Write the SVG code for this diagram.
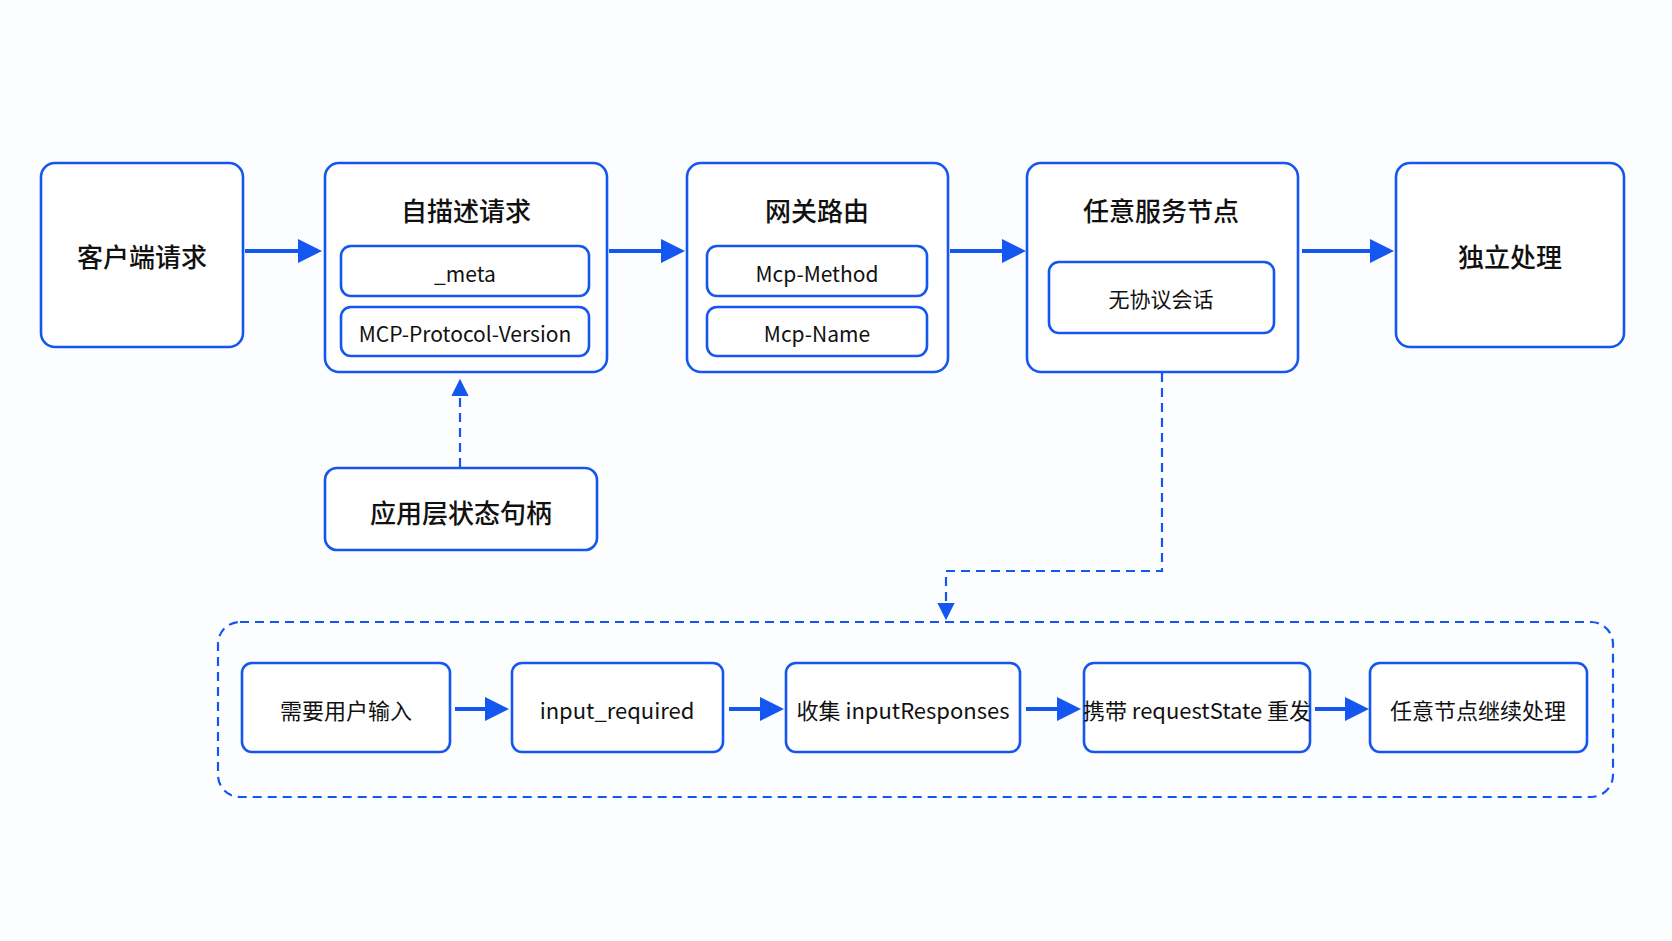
<svg xmlns="http://www.w3.org/2000/svg" width="1672" height="941" viewBox="0 0 1672 941">
<style>
.b{fill:#fff;stroke:#1456f0;stroke-width:2.6}
.t{font-family:"Noto Sans CJK SC","Noto Sans",sans-serif;fill:#111;text-anchor:middle;dominant-baseline:central}
.l{font-size:26px;font-weight:500}
.s{font-size:21px}
.m{font-size:22px}
.c{stroke:#1456f0;stroke-width:4;fill:none}
.d{stroke:#1456f0;stroke-width:2.2;fill:none;stroke-dasharray:9 6}
</style>
<defs>
<marker id="a" markerWidth="6" markerHeight="6" refX="5" refY="3" orient="auto" markerUnits="strokeWidth"><path d="M0,0L6,3L0,6z" fill="#1456f0"/></marker>
<marker id="ad" markerWidth="8" markerHeight="8" refX="7" refY="4" orient="auto" markerUnits="strokeWidth"><path d="M0,0L8,4L0,8z" fill="#1456f0"/></marker>
</defs>
<rect width="1672" height="941" fill="#fcfdff"/>
<g id="connectors">
<line class="c" x1="245" y1="251" x2="318" y2="251" marker-end="url(#a)"/>
<line class="c" x1="609" y1="251" x2="681" y2="251" marker-end="url(#a)"/>
<line class="c" x1="950" y1="251" x2="1022" y2="251" marker-end="url(#a)"/>
<line class="c" x1="1302" y1="251" x2="1390" y2="251" marker-end="url(#a)"/>
<line class="d" x1="460" y1="467" x2="460" y2="381" marker-end="url(#ad)"/>
<path class="d" d="M1162,373V571H946V618" marker-end="url(#ad)"/>
<line class="c" x1="455" y1="709" x2="505" y2="709" marker-end="url(#a)"/>
<line class="c" x1="729" y1="709" x2="780" y2="709" marker-end="url(#a)"/>
<line class="c" x1="1026" y1="709" x2="1077" y2="709" marker-end="url(#a)"/>
<line class="c" x1="1315" y1="709" x2="1365" y2="709" marker-end="url(#a)"/>
</g>
<g id="group"><rect x="218" y="622" width="1395" height="175" rx="22" fill="none" class="d"/></g>
<g id="client"><rect class="b" x="41" y="163" width="202" height="184" rx="14"/><text class="t l" x="142" y="255">客户端请求</text></g>
<g id="selfdesc"><rect class="b" x="325" y="163" width="282" height="209" rx="14"/><text class="t l" x="466" y="209">自描述请求</text>
<rect class="b" x="341" y="246" width="248" height="50" rx="10"/><text class="t s" x="465" y="273">_meta</text>
<rect class="b" x="341" y="307" width="248" height="49" rx="10"/><text class="t s" x="465" y="333">MCP-Protocol-Version</text></g>
<g id="gateway"><rect class="b" x="687" y="163" width="261" height="209" rx="14"/><text class="t l" x="817" y="209">网关路由</text>
<rect class="b" x="707" y="246" width="220" height="50" rx="10"/><text class="t s" x="817" y="273">Mcp-Method</text>
<rect class="b" x="707" y="307" width="220" height="49" rx="10"/><text class="t s" x="817" y="333">Mcp-Name</text></g>
<g id="anynode"><rect class="b" x="1027" y="163" width="271" height="209" rx="14"/><text class="t l" x="1161" y="209">任意服务节点</text>
<rect class="b" x="1049" y="262" width="225" height="71" rx="10"/><text class="t s" x="1161" y="298">无协议会话</text></g>
<g id="independent"><rect class="b" x="1396" y="163" width="228" height="184" rx="14"/><text class="t l" x="1510" y="255">独立处理</text></g>
<g id="appstate"><rect class="b" x="325" y="468" width="272" height="82" rx="12"/><text class="t l" x="461" y="511">应用层状态句柄</text></g>
<g id="n1"><rect class="b" x="242" y="663" width="208" height="89" rx="10"/><text class="t m" x="346" y="709">需要用户输入</text></g>
<g id="n2"><rect class="b" x="512" y="663" width="211" height="89" rx="10"/><text class="t m" x="617" y="709">input_required</text></g>
<g id="n3"><rect class="b" x="786" y="663" width="234" height="89" rx="10"/><text class="t m" x="903" y="709">收集 inputResponses</text></g>
<g id="n4"><rect class="b" x="1084" y="663" width="226" height="89" rx="10"/><text class="t m" x="1197" y="709">携带 requestState 重发</text></g>
<g id="n5"><rect class="b" x="1370" y="663" width="217" height="89" rx="10"/><text class="t m" x="1478" y="709">任意节点继续处理</text></g>
</svg>
